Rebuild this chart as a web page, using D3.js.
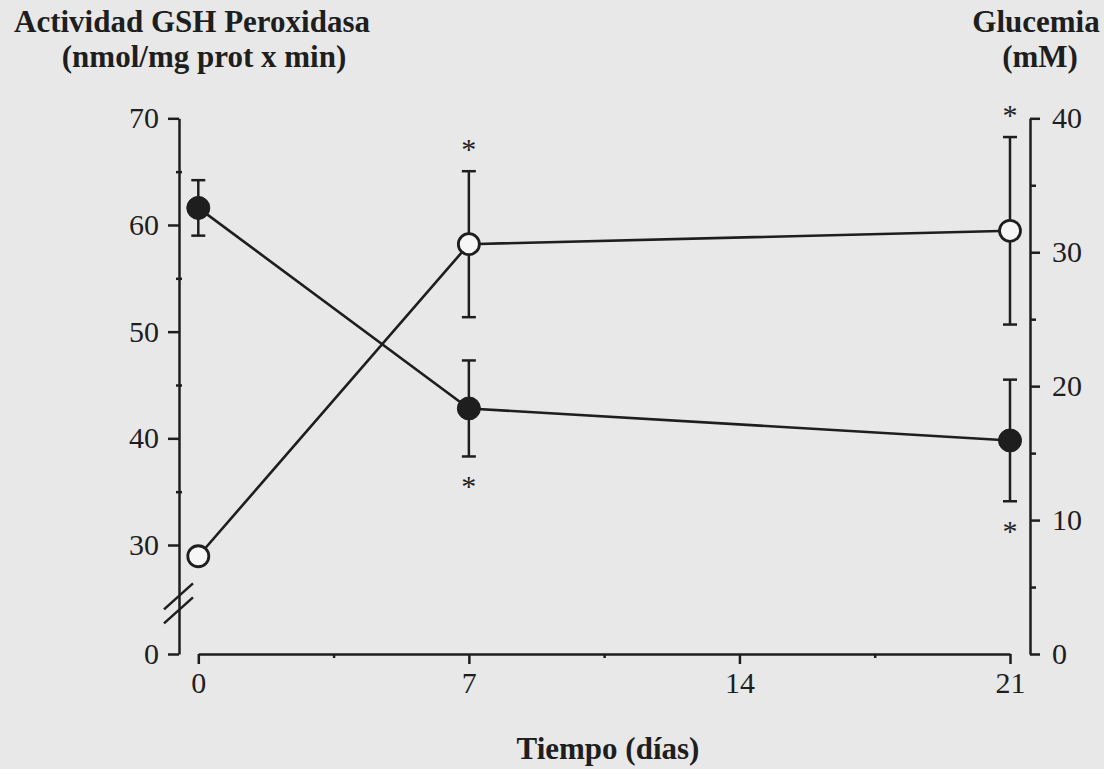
<!DOCTYPE html>
<html>
<head>
<meta charset="utf-8">
<script src="https://cdn.jsdelivr.net/npm/d3@7.9.0/dist/d3.min.js"></script>
<style>
  html, body { margin: 0; padding: 0; background: #e8e8e8; }
  svg { display: block; }
</style>
</head>
<body>
<svg id="chart" width="1104" height="769"></svg>
<script>
// Time points (days)
const days = [0, 7, 21];

// GSH peroxidase activity (left axis), filled circles
const gshMean = [61.6, 42.8, 39.8];
const gshSem = [2.6, 4.5, 5.7];
const gshSig = [false, true, true];

// Glycaemia (right axis), open circles
const gluMean = [7.3, 30.6, 31.6];
const gluSem = [0, 5.45, 7.0];
const gluSig = [false, true, true];

// Axis ticks
const xTicks = [0, 7, 14, 21];
const xMinor = [3.5, 10.5, 17.5];
const leftTicks = [0, 30, 40, 50, 60, 70];
const leftMinor = [35, 45, 55, 65];
const rightTicks = [0, 10, 20, 30, 40];
const rightMinor = [5, 15, 25, 35];

const ink = '#1e1e1e';
const font = '"Liberation Serif", "Times New Roman", serif';

const svg = d3.select('#chart');

// scales (left one is broken between 0 and 30)
const x = d3.scaleLinear().domain([0, 21]).range([198.3, 1010]);
const yL = d3.scaleLinear().domain([0, 30, 70]).range([654, 545, 118.3]);
const yR = d3.scaleLinear().domain([0, 40]).range([654, 118.3]);

const leftX = 179;
const rightX = 1030;
const baseY = 654;

function styleAxis(g) {
  g.attr('font-family', font).attr('font-size', 30);
  g.selectAll('path, line').attr('stroke', ink).attr('stroke-width', 2.5);
  g.selectAll('text').attr('fill', ink);
}

// x axis
svg.append('g')
  .attr('transform', `translate(0,${baseY})`)
  .call(d3.axisBottom(x).tickValues(xTicks).tickSize(10).tickSizeOuter(0).tickPadding(8))
  .call(styleAxis);
svg.append('g')
  .attr('transform', `translate(0,${baseY})`)
  .call(d3.axisBottom(x).tickValues(xMinor).tickSize(4).tickSizeOuter(0).tickFormat(''))
  .call(styleAxis)
  .call(g => g.select('.domain').remove());

// left axis
svg.append('g')
  .attr('transform', `translate(${leftX},0)`)
  .call(d3.axisLeft(yL).tickValues(leftTicks).tickSize(11).tickSizeOuter(0).tickPadding(9))
  .call(styleAxis);
svg.append('g')
  .attr('transform', `translate(${leftX + 3},0)`)
  .call(d3.axisLeft(yL).tickValues(leftMinor).tickSize(6).tickFormat(''))
  .call(styleAxis)
  .call(g => g.select('.domain').remove());

// axis break marks
const brk = svg.append('g').attr('stroke', ink).attr('stroke-width', 2.5);
[0, 14].forEach(off => {
  brk.append('line')
    .attr('x1', leftX - 15).attr('y1', yL(12) + off - 1)
    .attr('x2', leftX + 14).attr('y2', yL(12) + off - 27);
});

// right axis
svg.append('g')
  .attr('transform', `translate(${rightX},0)`)
  .call(d3.axisRight(yR).tickValues(rightTicks).tickSize(10).tickSizeOuter(0).tickPadding(12))
  .call(styleAxis);
svg.append('g')
  .attr('transform', `translate(${rightX},0)`)
  .call(d3.axisRight(yR).tickValues(rightMinor).tickSize(6).tickFormat(''))
  .call(styleAxis)
  .call(g => g.select('.domain').remove());

// series
const gsh = days.map((d, i) => ({ day: d, m: gshMean[i], s: gshSem[i], sig: gshSig[i] }));
const glu = days.map((d, i) => ({ day: d, m: gluMean[i], s: gluSem[i], sig: gluSig[i] }));

function drawSeries(data, y, filled, sigAbove) {
  const g = svg.append('g');
  g.append('path')
    .datum(data)
    .attr('d', d3.line().x(d => x(d.day)).y(d => y(d.m)))
    .attr('fill', 'none')
    .attr('stroke', ink)
    .attr('stroke-width', 2.6);

  const eb = g.selectAll('.eb').data(data.filter(d => d.s > 0)).join('g')
    .attr('stroke', ink).attr('stroke-width', 2.5);
  eb.append('line')
    .attr('x1', d => x(d.day)).attr('x2', d => x(d.day))
    .attr('y1', d => y(d.m - d.s)).attr('y2', d => y(d.m + d.s));
  eb.append('line')
    .attr('x1', d => x(d.day) - 7).attr('x2', d => x(d.day) + 7)
    .attr('y1', d => y(d.m + d.s)).attr('y2', d => y(d.m + d.s));
  eb.append('line')
    .attr('x1', d => x(d.day) - 7).attr('x2', d => x(d.day) + 7)
    .attr('y1', d => y(d.m - d.s)).attr('y2', d => y(d.m - d.s));

  g.selectAll('circle').data(data).join('circle')
    .attr('cx', d => x(d.day)).attr('cy', d => y(d.m))
    .attr('r', filled ? 11.5 : 10.5)
    .attr('fill', filled ? ink : '#f6f6f6')
    .attr('stroke', ink)
    .attr('stroke-width', filled ? 1 : 2.8);

  // significance asterisks
  g.selectAll('.sig').data(data.filter(d => d.sig)).join('text')
    .attr('x', d => x(d.day))
    .attr('y', d => sigAbove ? y(d.m + d.s) - 25 + 13 : y(d.m - d.s) + 27 + 13)
    .attr('text-anchor', 'middle')
    .attr('font-family', font)
    .attr('font-size', 30)
    .attr('fill', ink)
    .text('*');
}

drawSeries(gsh, yL, true, false);
drawSeries(glu, yR, false, true);

// titles
const titles = svg.append('g')
  .attr('font-family', font)
  .attr('font-weight', 'bold')
  .attr('font-size', 31)
  .attr('fill', ink)
  .attr('text-anchor', 'middle');
titles.append('text').attr('x', 192).attr('y', 32).text('Actividad GSH Peroxidasa');
titles.append('text').attr('x', 204).attr('y', 67).text('(nmol/mg prot x min)');
titles.append('text').attr('x', 1036).attr('y', 32).text('Glucemia');
titles.append('text').attr('x', 1040).attr('y', 67).text('(mM)');
titles.append('text').attr('x', 608).attr('y', 759).text('Tiempo (días)');
</script>
</body>
</html>
